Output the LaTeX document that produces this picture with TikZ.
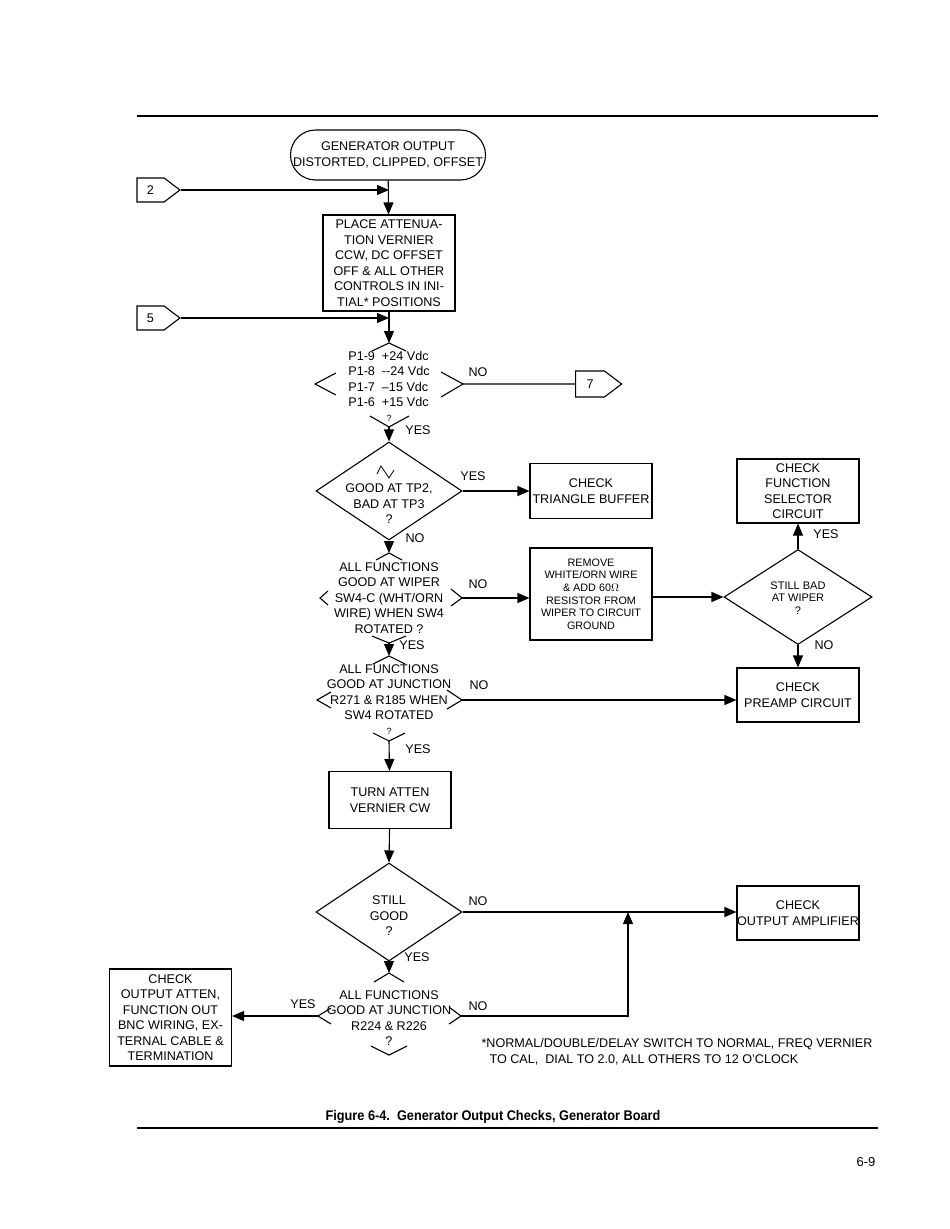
\documentclass[tikz,border=0pt]{standalone}
\usepackage{graphicx}
\usepackage{fontspec}
\setmainfont{Liberation Sans}
\usetikzlibrary{positioning,shapes.geometric,shapes.symbols,arrows.meta}

\tikzset{
  box/.style={draw, align=center, inner xsep=0pt, inner ysep=2pt, minimum width=122pt},
  dia/.style={draw, diamond, inner sep=0pt},
  conn/.style={draw, signal, signal to=east, signal pointer angle=74, inner sep=0pt, minimum width=43pt, minimum height=24pt},
  txt/.style={align=center, inner sep=0pt},
  lbl/.style={inner sep=0pt},
  arr/.style={-{Triangle[length=12pt,width=10pt]}},
}
% open corners round a test
\newcommand{\chev}[3]{\draw ([shift={(#2)}]#1) -- (#1) -- ([shift={(#3)}]#1);}

\begin{document}
\begin{tikzpicture}[x=1pt, y=-1pt, line width=1.1pt, font=\fontsize{12.6}{15.5}\selectfont]
  \useasboundingbox (0,0) rectangle (950,1229);
  \draw (137,116) -- (878,116);

  % top of the chart
  \node[draw, rounded corners=25pt, minimum width=195pt, minimum height=50pt, align=center, inner sep=0pt] (start) at (388,155) {GENERATOR OUTPUT\\DISTORTED, CLIPPED, OFFSET};
  \node[conn] (c2) at (150.5,190) {2};
  \node[box, minimum width=132pt, minimum height=96pt] (place) at (389,263) {PLACE ATTENUA-\\TION VERNIER\\CCW, DC OFFSET\\OFF \& ALL OTHER\\CONTROLS IN INI-\\TIAL* POSITIONS};
  \node[conn] (c5) at (150.5,318) {5};
  \draw[arr] (start) -- (place);
  \draw[arr] (c2.east) -- (c2.east -| place);
  \draw[arr] (c5.east) -- (c5.east -| place);

  % supply voltages
  \node[align=left, inner sep=0pt] (q1) at (389,379) {P1-9\ \ +24 Vdc\\P1-8\ \ -{}-24 Vdc\\P1-7\ \ --15 Vdc\\P1-6\ \ +15 Vdc};
  \coordinate (q1t) at (389,343);
  \coordinate (q1l) at (315,384);
  \coordinate (q1r) at (463,384);
  \coordinate (q1b) at (389,427);
  \chev{q1t}{-17,8}{17,8}
  \chev{q1l}{21,-11}{21,11}
  \chev{q1r}{-22,-12}{-22,13}
  \chev{q1b}{-19,-11}{20,-11}
  \node[lbl, font=\fontsize{9}{10}\selectfont] (q1q) at (389,418) {?};
  \node[conn, minimum width=46pt, minimum height=26pt] (c7) at (590,384) {7};
  \draw[arr] (place) -- (q1t);
  \draw (q1r) -- (c7);
  \node[lbl] (y1) at (418,430) {YES};
  \node[lbl] (n1) at (478,372) {NO};

  % triangle buffer
  \node[dia, minimum width=146pt, minimum height=98pt] (d2) at (389,491) {};
  \node[txt] (d2t) at (389,504) {GOOD AT TP2,\\BAD AT TP3\\?};
  \draw[line width=0.8pt] (377,474) -- (381,466) -- (389,478) -- (394,470);
  \node[box, minimum height=55pt] (tribuf) at (591,491) {CHECK\\TRIANGLE BUFFER};
  \draw[arr] (q1b) -- (d2.north);
  \draw[arr] (d2.east) -- (tribuf.west);
  \node[lbl] (y2) at (473,476) {YES};
  \node[lbl] (n2) at (415,538) {NO};

  % wiper of SW4
  \node[txt] (q3) at (389,598) {ALL FUNCTIONS\\GOOD AT WIPER\\SW4-C (WHT/ORN\\WIRE) WHEN SW4\\ROTATED ?};
  \coordinate (q3t) at (389,553);
  \coordinate (q3l) at (320,598);
  \coordinate (q3r) at (462,598);
  \coordinate (q3b) at (389,643);
  \chev{q3t}{-13,7}{13,7}
  \chev{q3l}{8,-7}{8,7}
  \chev{q3r}{-11,-9}{-11,8}
  \chev{q3b}{-17,-7}{17,-7}
  \draw[arr] (d2.south) -- (q3t);
  \node[box, minimum height=92pt, font=\fontsize{10.8}{12.6}\selectfont] (remove) at (591,594) {REMOVE\\WHITE/ORN WIRE\\\& ADD 60$\Omega$\\RESISTOR FROM\\WIPER TO CIRCUIT\\GROUND};
  \draw[arr] (q3r) -- (q3r -| remove.west);
  \node[lbl] (n3) at (478,584) {NO};
  \node[lbl] (y3) at (412,645) {YES};

  % still bad at wiper
  \node[dia, minimum width=148pt, minimum height=95pt] (d4) at (798,597) {};
  \node[txt, font=\fontsize{11}{12.5}\selectfont] (d4t) at (798,598) {STILL BAD\\AT WIPER\\?};
  \node[box, minimum height=64pt] (funcsel) at (798,491) {CHECK\\FUNCTION\\SELECTOR\\CIRCUIT};
  \node[box, minimum height=54pt] (preamp) at (798,695) {CHECK\\PREAMP CIRCUIT};
  \draw[arr] (remove.east |- d4.west) -- (d4.west);
  \draw[arr] (d4.north) -- (funcsel.south);
  \draw[arr] (d4.south) -- (preamp.north);
  \node[lbl] (y4) at (826,534) {YES};
  \node[lbl] (n4) at (824,645) {NO};

  % junction R271 and R185
  \node[txt] (q5) at (389,692) {ALL FUNCTIONS\\GOOD AT JUNCTION\\R271 \& R185 WHEN\\SW4 ROTATED};
  \coordinate (q5t) at (389,656);
  \coordinate (q5l) at (317,700);
  \coordinate (q5r) at (462,700);
  \coordinate (q5b) at (389,741);
  \chev{q5t}{-16,8}{16,8}
  \chev{q5l}{14,-8}{14,8}
  \chev{q5r}{-15,-10}{-15,9}
  \chev{q5b}{-16,-8}{16,-8}
  \node[lbl, font=\fontsize{9}{10}\selectfont] (q5q) at (389,731) {?};
  \draw[arr] (q3b) -- (q5t);
  \draw[arr] (q5r) -- (q5r -| preamp.west);
  \node[lbl] (n5) at (479,685) {NO};
  \node[lbl] (y5) at (418,749) {YES};

  % vernier clockwise
  \node[box, minimum height=57pt] (atten) at (390,800) {TURN ATTEN\\VERNIER CW};
  \draw[arr] (q5b) -- (atten);
  \node[dia, minimum width=146pt, minimum height=98pt] (d6) at (389,912) {};
  \node[txt] (d6t) at (389,916) {STILL\\GOOD\\?};
  \draw[arr] (atten) -- (d6.north);
  \node[box, minimum height=54pt] (outamp) at (798,913) {CHECK\\OUTPUT AMPLIFIER};
  \draw[arr] (d6.east) -- (d6.east -| outamp.west);
  \node[lbl] (n6) at (478,901) {NO};
  \node[lbl] (y6) at (417,957) {YES};

  % junction R224 and R226
  \node[txt] (q7) at (389,1018) {ALL FUNCTIONS\\GOOD AT JUNCTION\\R224 \& R226\\?};
  \coordinate (q7t) at (389,973);
  \coordinate (q7l) at (318,1016);
  \coordinate (q7r) at (461,1016);
  \coordinate (q7b) at (389,1055);
  \chev{q7t}{-15,9}{15,9}
  \chev{q7l}{13,-8}{13,8}
  \chev{q7r}{-12,-9}{-12,8}
  \chev{q7b}{-18,-9}{18,-9}
  \draw[arr] (d6.south) -- (q7t);
  \node[box, minimum height=97pt] (chkout) at (170.5,1017.5) {CHECK\\OUTPUT ATTEN,\\FUNCTION OUT\\BNC WIRING, EX-\\TERNAL CABLE \&\\TERMINATION};
  \draw[arr] (q7l) -- (q7l -| chkout.east);
  \coordinate (jn) at (628,1016);
  \draw[arr] (q7r) -- (jn) -- (jn |- d6.east);
  \node[lbl] (y7) at (303,1004) {YES};
  \node[lbl] (n7) at (478,1006) {NO};

  % note, caption, page
  \node[align=left, inner sep=0pt, anchor=north west] (note) at (481,1038) {*NORMAL/DOUBLE/DELAY SWITCH TO NORMAL, FREQ VERNIER\\\hspace*{8pt}TO CAL,\ \ DIAL TO 2.0, ALL OTHERS TO 12 O'CLOCK};
  \node[font=\fontsize{14}{16}\selectfont\bfseries] (cap) at (493,1117) {\scalebox{0.91}[1]{Figure 6-4.\ \ Generator Output Checks, Generator Board}};
  \draw (137,1128) -- (878,1128);
  \node[font=\fontsize{13}{15}\selectfont] (page) at (866,1162) {6-9};
\end{tikzpicture}
\end{document}
